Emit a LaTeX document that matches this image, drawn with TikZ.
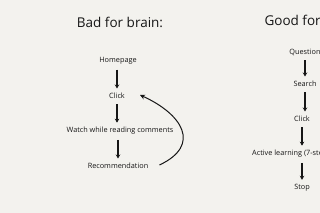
\documentclass[tikz,border=0pt]{standalone}
\usepackage{fontspec}
\setmainfont{Open Sans}
\usetikzlibrary{arrows.meta}
\definecolor{paper}{HTML}{F3F2EE}
\definecolor{ink}{HTML}{161616}
\begin{document}
\begin{tikzpicture}[x = 1pt, y = -1pt,
  stepbox/.style = {font = \fontsize{7.3}{9}\selectfont, text = ink, inner sep = 1pt},
  heading/.style = {font = \fontsize{13.5}{15}\selectfont, text = ink},
  down/.style = {-{Stealth[length = 4pt, width = 4.5pt]}, line width = 1.1pt, draw = ink,
    shorten < = 4pt, shorten > = 3.5pt}]
\fill[paper] (0,0) rectangle (320,213);
\useasboundingbox (0,0) rectangle (320,213);
\clip (0,0) rectangle (320,213);
% bad for brain
\node[heading] (bad) at (120,22) {Bad for brain:};
\node[stepbox] (home) at (118,61) {Homepage};
\node[stepbox] (clickA) at (117,96) {Click};
\node[stepbox] (watch) at (120,131) {Watch while reading comments};
\node[stepbox] (recom) at (118,166) {Recommendation};
\draw[down] (home.south -| clickA) -- (clickA.north);
\draw[down] (clickA.south) -- (clickA.south |- watch.north);
\draw[down] (watch.south -| recom) -- (recom.north);
\draw[-{Stealth[length = 5pt, width = 5pt]}, line width = 1pt, ink]
  ([xshift = 10pt, yshift = 1pt]recom.east) .. controls (202,145) and (182,114) .. ([xshift = 14pt, yshift = 1pt]clickA.east);
% good for brain
\node[heading, anchor = west] (good) at (261,20) {Good for brain:};
\node[stepbox] (quest) at (305,52) {Question};
\node[stepbox] (search) at (305,84) {Search};
\node[stepbox] (clickB) at (302,119) {Click};
\node[stepbox, anchor = west] (active) at (251,154) {Active learning (7-steps)};
\node[stepbox] (stop) at (302,188) {Stop};
\draw[down] (quest.south) -- (quest.south |- search.north);
\draw[down] (search.south) -- (search.south |- clickB.north);
\draw[down] (clickB.south) -- (clickB.south |- active.north);
\draw[down] (active.south -| stop) -- (stop.north);
\end{tikzpicture}
\end{document}
